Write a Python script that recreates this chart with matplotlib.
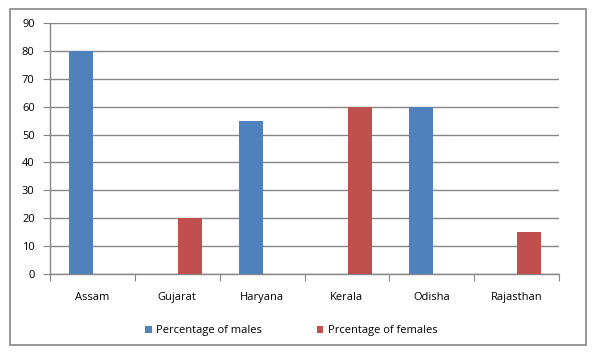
import matplotlib
matplotlib.use("Agg")
import matplotlib.pyplot as plt
import numpy as np
from matplotlib.patches import Rectangle

states = ["Assam", "Gujarat", "Haryana", "Kerala", "Odisha", "Rajasthan"]
males = [80, 0, 55, 0, 60, 0]
females = [0, 20, 0, 60, 0, 15]
yticks = [0, 10, 20, 30, 40, 50, 60, 70, 80, 90]

plt.rcParams['font.family'] = ['Open Sans', 'DejaVu Sans']
grey = "#868686"

fig = plt.figure(figsize=(5.97, 3.55), dpi=100)
fig.patches.append(Rectangle((10/597, 1 - 345/355), 576/597, 336/355, transform=fig.transFigure,
                             fill=False, edgecolor=grey, linewidth=1.2))
ax = fig.add_axes([50/597, 1 - 274/355, 509/597, 251/355])
x = np.arange(len(states))
w = 0.283
ax.bar(x - w/2 + 0.01, males, w, color="#4F81BD", label="Percentage of males", zorder=3)
ax.bar(x + w/2 + 0.01, females, w, color="#C0504D", label="Prcentage of females", zorder=3)
ax.set_xlim(-0.5, len(states) - 0.5)
ax.set_ylim(0, 90)
ax.set_yticks(yticks)
ax.yaxis.grid(True, color=grey, linewidth=1)
ax.set_axisbelow(True)
for s in ["top", "right"]:
    ax.spines[s].set_visible(False)
for s in ["left", "bottom"]:
    ax.spines[s].set_color(grey)
    ax.spines[s].set_linewidth(1)
ax.set_xticks(np.arange(-0.5, len(states)), minor=False)
ax.set_xticklabels([])
ax.set_xticks(x, minor=True)
ax.set_xticklabels(states, minor=True)
ax.tick_params(axis="x", which="major", length=5, color=grey)
ax.tick_params(axis="x", which="minor", length=0, pad=13, labelsize=8)
ax.tick_params(axis="y", length=5, color=grey, labelsize=8, pad=6)
leg = ax.legend(loc="center", bbox_to_anchor=(0.474, -0.225), ncol=2, frameon=False,
                fontsize=8, handlelength=0.6, handleheight=0.6, columnspacing=4.9, handletextpad=0.4)
fig.savefig("out.png", dpi=100)
